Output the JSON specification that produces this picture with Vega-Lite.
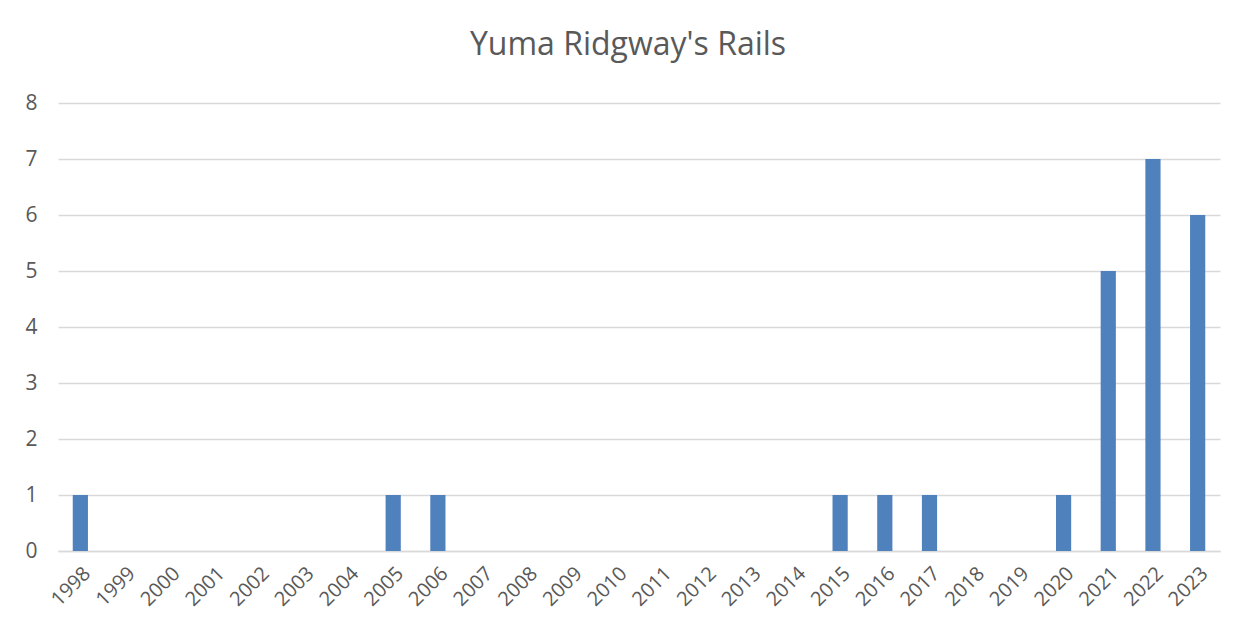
{
  "$schema": "https://vega.github.io/schema/vega-lite/v6.json",
  "width": 1162,
  "height": 448,
  "autosize": {"type": "none"},
  "padding": {"left": 58, "top": 103, "right": 24, "bottom": 86},
  "background": "white",
  "title": {
    "text": "Yuma Ridgway's Rails",
    "fontSize": 32,
    "font": "Open Sans",
    "fontWeight": "normal",
    "color": "#595959",
    "anchor": "middle",
    "dx": -11,
    "offset": 30
  },
  "data": {
    "values": [
      {"year": "1998", "count": 1},
      {"year": "1999", "count": 0},
      {"year": "2000", "count": 0},
      {"year": "2001", "count": 0},
      {"year": "2002", "count": 0},
      {"year": "2003", "count": 0},
      {"year": "2004", "count": 0},
      {"year": "2005", "count": 1},
      {"year": "2006", "count": 1},
      {"year": "2007", "count": 0},
      {"year": "2008", "count": 0},
      {"year": "2009", "count": 0},
      {"year": "2010", "count": 0},
      {"year": "2011", "count": 0},
      {"year": "2012", "count": 0},
      {"year": "2013", "count": 0},
      {"year": "2014", "count": 0},
      {"year": "2015", "count": 1},
      {"year": "2016", "count": 1},
      {"year": "2017", "count": 1},
      {"year": "2018", "count": 0},
      {"year": "2019", "count": 0},
      {"year": "2020", "count": 1},
      {"year": "2021", "count": 5},
      {"year": "2022", "count": 7},
      {"year": "2023", "count": 6}
    ]
  },
  "mark": {"type": "bar", "color": "#4F81BD"},
  "encoding": {
    "x": {
      "field": "year",
      "type": "ordinal",
      "scale": {"paddingInner": 0.66, "paddingOuter": 0.33},
      "axis": {
        "title": null,
        "labelAngle": -45,
        "labelFontSize": 20,
        "labelFont": "Open Sans",
        "labelColor": "#595959",
        "ticks": false,
        "labelPadding": 12,
        "domainColor": "#D9D9D9",
        "domainWidth": 1.5
      }
    },
    "y": {
      "field": "count",
      "type": "quantitative",
      "scale": {"domain": [0, 8], "nice": false},
      "axis": {
        "title": null,
        "values": [0, 1, 2, 3, 4, 5, 6, 7, 8],
        "domain": false,
        "ticks": false,
        "labelFontSize": 21,
        "labelFont": "Open Sans",
        "labelColor": "#595959",
        "labelPadding": 21,
        "gridColor": "#D9D9D9",
        "gridWidth": 1.5
      }
    }
  },
  "config": {"view": {"stroke": null}}
}
